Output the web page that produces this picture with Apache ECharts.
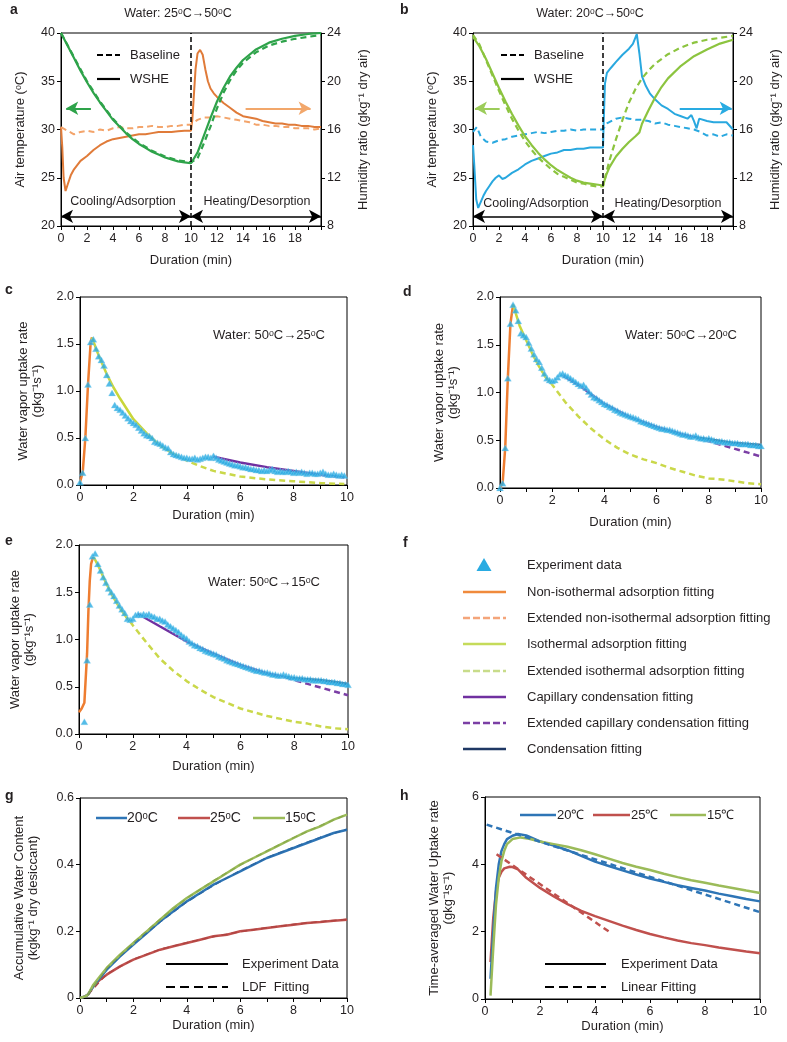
<!DOCTYPE html>
<html><head><meta charset="utf-8">
<script src="https://cdn.jsdelivr.net/npm/echarts@6/dist/echarts.min.js"></script>
<style>html,body{margin:0;padding:0;background:#fff}#c{width:787px;height:1042px}</style>
</head><body><div id="c"></div>
<script>
// ---------- panel a (Water 25->50) ----------
const aTempWSHE = [[0,40],[0.5,38.7],[1,37.4],[1.5,36.1],[2,34.9],[2.5,33.8],[3,32.8],[3.5,31.9],[4,31.0],[4.5,30.3],[5,29.6],[5.5,29.0],[6,28.5],[6.5,28.1],[7,27.7],[7.5,27.4],[8,27.1],[8.5,26.9],[9,26.7],[9.5,26.6],[10,26.5],[10.5,27.6],[11,29.4],[11.5,31.2],[12,32.9],[12.5,34.3],[13,35.5],[13.5,36.4],[14,37.2],[15,38.3],[16,39.0],[17,39.4],[18,39.7],[19,39.9],[20,40]];
const aTempBase = [[0,40],[1,37.5],[2,35.0],[3,32.9],[4,31.1],[5,29.7],[6,28.6],[7,27.8],[8,27.2],[9,26.8],[10,26.6],[10.5,27.0],[11,28.6],[11.5,30.3],[12,32.2],[12.5,33.8],[13,35.1],[13.5,36.1],[14,36.9],[15,38.0],[16,38.7],[17,39.1],[18,39.4],[19,39.6],[20,39.8]];
const aHumWSHE = [[0,16.2],[0.1,14.5],[0.2,12.0],[0.35,10.9],[0.5,11.4],[0.75,12.2],[1,12.7],[1.5,13.4],[2,13.8],[2.5,14.3],[3,14.7],[3.5,15.0],[4,15.2],[4.5,15.3],[5,15.4],[5.5,15.5],[6,15.6],[6.5,15.6],[7,15.7],[7.5,15.8],[8,15.8],[8.5,15.8],[9,15.85],[9.5,15.9],[10,15.9],[10.1,16.8],[10.2,18.5],[10.35,21.0],[10.5,22.3],[10.7,22.6],[10.9,22.2],[11.1,21.0],[11.3,20.0],[11.5,19.4],[11.75,19.0],[12,18.7],[12.5,18.2],[13,17.8],[13.5,17.4],[14,17.1],[14.5,17.0],[15,16.9],[15.5,16.7],[16,16.6],[16.5,16.5],[17,16.5],[17.5,16.4],[18,16.4],[18.5,16.3],[19,16.3],[19.5,16.2],[20,16.2]];
const aHumBase = [[0,16.2],[0.5,15.9],[1,15.6],[1.5,15.8],[2,15.9],[2.5,15.8],[3,16.0],[3.5,15.9],[4,16.1],[4.5,16.2],[5,16.1],[5.5,16.1],[6,16.2],[6.5,16.2],[7,16.3],[7.5,16.2],[8,16.2],[8.5,16.3],[9,16.3],[9.5,16.4],[10,16.4],[10.5,16.8],[11,17.0],[11.5,17.0],[12,17.1],[12.5,17.0],[13,16.9],[13.5,16.8],[14,16.7],[14.5,16.6],[15,16.4],[15.5,16.4],[16,16.3],[16.5,16.3],[17,16.2],[17.5,16.2],[18,16.1],[18.5,16.1],[19,16.1],[19.5,16.0],[20,16.1]];
// ---------- panel b (Water 20->50) ----------
const bTempWSHE = [[0,39.6],[0.5,38.6],[1,37.3],[1.5,35.8],[2,34.3],[2.5,32.9],[3,31.6],[3.5,30.4],[4,29.3],[4.5,28.4],[5,27.6],[5.5,26.9],[6,26.3],[6.5,25.8],[7,25.4],[7.5,25.0],[8,24.7],[8.5,24.5],[9,24.4],[9.5,24.3],[10,24.2],[10.25,25.3],[10.5,26.1],[11,27.2],[11.5,28.0],[12,28.7],[12.5,29.3],[12.8,29.7],[13,30.6],[13.5,32.0],[14,33.3],[14.5,34.4],[15,35.3],[16,36.6],[17,37.6],[18,38.3],[19,38.9],[20,39.3]];
const bTempBase = [[0,39.8],[0.5,38.8],[1,37.2],[1.5,35.6],[2,34.0],[2.5,32.5],[3,31.1],[3.5,29.9],[4,28.8],[4.5,27.9],[5,27.1],[5.5,26.5],[6,25.9],[6.5,25.4],[7,25.1],[7.5,24.8],[8,24.5],[8.5,24.4],[9,24.2],[9.5,24.1],[10,24.1],[10.25,25.5],[10.5,26.8],[11,29.0],[11.5,31.0],[12,32.8],[12.5,34.2],[13,35.3],[13.5,36.1],[14,36.8],[15,37.8],[16,38.5],[17,39.0],[18,39.3],[19,39.5],[20,39.7]];
const bHumWSHE = [[0,14.7],[0.1,13.0],[0.25,10.2],[0.4,9.5],[0.6,10.0],[0.8,10.5],[1,10.9],[1.25,11.3],[1.5,11.7],[1.75,12.0],[2,12.2],[2.25,11.9],[2.5,12.0],[3,12.4],[3.5,12.7],[4,13.1],[4.5,13.4],[5,13.6],[5.5,13.8],[6,14.0],[6.5,14.1],[7,14.3],[7.5,14.3],[8,14.4],[8.5,14.4],[9,14.5],[9.5,14.5],[10,14.5],[10.05,16.5],[10.15,19.8],[10.3,20.7],[10.6,21.1],[11,21.6],[11.5,22.2],[12,22.7],[12.3,23.1],[12.6,23.9],[12.8,22.3],[13,20.4],[13.3,19.6],[13.6,19.0],[14,18.5],[14.5,18.0],[15,17.7],[15.5,17.3],[16,17.1],[16.5,16.9],[16.8,17.2],[17,16.7],[17.2,16.1],[17.4,16.9],[18,16.7],[18.5,16.6],[19,16.6],[19.5,16.6],[20,16.0]];
const bHumBase = [[0,15.8],[0.3,16.2],[0.6,15.4],[1,15.0],[1.5,14.9],[2,15.1],[2.5,15.2],[3,15.4],[3.5,15.5],[4,15.6],[4.5,15.7],[5,15.8],[5.5,15.7],[6,15.8],[6.5,15.9],[7,15.9],[7.5,16.0],[8,15.9],[8.5,16.0],[9,16.0],[9.5,16.0],[10,16.0],[10.3,16.5],[11,16.9],[11.5,17.0],[12,16.9],[12.5,16.8],[13,16.8],[13.5,16.7],[14,16.5],[14.5,16.6],[15,16.4],[15.5,16.3],[16,16.2],[16.5,16.1],[17,16.0],[17.5,15.8],[18,15.5],[18.5,15.6],[19,15.4],[19.5,15.6],[20,15.5]];
// ---------- panels c, d, e (uptake rate) ----------
const expStep = 0.1;
const expCStart = 0, expDStart = 0, expEStart = 0.2;
const expC = [0.03,0.13,0.50,1.07,1.52,1.55,1.45,1.37,1.33,1.27, 1.17,1.08,0.98,0.85,0.82,0.80,0.77,0.74,0.71,0.68, 0.66,0.64,0.61,0.58,0.55,0.53,0.52,0.50,0.46,0.45, 0.44,0.42,0.40,0.39,0.35,0.33,0.32,0.31,0.30,0.29, 0.29,0.28,0.28,0.29,0.27,0.28,0.29,0.30,0.30,0.29, 0.31,0.29,0.27,0.26,0.25,0.24,0.23,0.22,0.21,0.21, 0.20,0.19,0.19,0.18,0.17,0.17,0.16,0.16,0.15,0.16, 0.15,0.16,0.17,0.15,0.14,0.15,0.14,0.14,0.15,0.14, 0.13,0.14,0.13,0.14,0.13,0.12,0.13,0.13,0.12,0.12, 0.13,0.14,0.12,0.11,0.11,0.12,0.11,0.10,0.11,0.10];
const expD = [0.00,0.05,0.42,1.15,1.72,1.92,1.86,1.75,1.62,1.60, 1.58,1.52,1.46,1.40,1.35,1.32,1.26,1.20,1.15,1.13, 1.12,1.13,1.16,1.19,1.20,1.18,1.17,1.15,1.13,1.11, 1.09,1.07,1.08,1.05,1.01,0.98,0.95,0.94,0.92,0.90, 0.88,0.87,0.85,0.84,0.82,0.81,0.79,0.78,0.77,0.76, 0.75,0.74,0.73,0.72,0.70,0.69,0.68,0.67,0.66,0.65, 0.64,0.63,0.62,0.62,0.61,0.61,0.60,0.59,0.58,0.57, 0.56,0.56,0.55,0.54,0.54,0.55,0.53,0.52,0.52,0.51, 0.52,0.51,0.50,0.49,0.49,0.49,0.48,0.48,0.48,0.47, 0.47,0.47,0.46,0.46,0.46,0.46,0.45,0.45,0.45,0.44, 0.44];
const expE = [0.13,0.78,1.37,1.88,1.91,1.80,1.73,1.66,1.60,1.54, 1.50,1.46,1.41,1.36,1.32,1.28,1.22,1.21,1.22,1.26, 1.27,1.26,1.27,1.26,1.27,1.25,1.24,1.22,1.22,1.20, 1.19,1.16,1.14,1.12,1.10,1.08,1.05,1.03,1.01,0.98, 0.96,0.94,0.93,0.91,0.90,0.88,0.87,0.86,0.85,0.84, 0.82,0.81,0.80,0.78,0.77,0.76,0.75,0.74,0.73,0.72, 0.71,0.70,0.69,0.68,0.67,0.67,0.66,0.65,0.65,0.64, 0.63,0.63,0.62,0.62,0.63,0.62,0.61,0.60,0.60,0.59, 0.59,0.59,0.58,0.58,0.58,0.57,0.57,0.57,0.57,0.56, 0.56,0.55,0.55,0.55,0.54,0.54,0.53,0.53,0.52];

const cNonIso = [[0,0.03],[0.1,0.13],[0.2,0.5],[0.3,1.07],[0.4,1.52],[0.45,1.57]];
const cIso = [[0.45,1.57],[0.6,1.45],[0.8,1.31],[1.0,1.18],[1.25,1.04],[1.5,0.92],[2,0.70],[2.5,0.55],[3,0.42],[3.5,0.33]];
const cIsoExt = [[3.5,0.33],[4,0.26],[4.5,0.2],[5,0.15],[5.5,0.12],[6,0.09],[7,0.06],[8,0.04],[9,0.02],[9.9,0.01]];
const cCap = [[5,0.30],[6,0.24],[7,0.19],[8,0.15],[9,0.11],[9.9,0.08]];

const dNonIso = [[0,0],[0.1,0.05],[0.2,0.42],[0.3,1.15],[0.4,1.72],[0.5,1.92]];
const dIso = [[0.5,1.92],[0.75,1.70],[1,1.55],[1.25,1.40],[1.5,1.27],[1.75,1.16],[1.95,1.10]];
const dIsoExt = [[1.95,1.10],[2.5,0.90],[3,0.75],[3.5,0.62],[4,0.51],[4.5,0.42],[5,0.35],[5.5,0.30],[6,0.26],[6.5,0.21],[7,0.17],[7.5,0.13],[8,0.10],[8.5,0.09],[9,0.07],[9.5,0.05],[10,0.04]];
const dCap = [[2.4,1.18],[3,1.08],[4,0.88],[5,0.74],[6,0.64],[7,0.56],[7.5,0.53]];
const dCapExt = [[7.5,0.53],[8,0.49],[8.5,0.45],[9,0.41],[9.5,0.37],[10,0.33]];
const dCond = [[7.5,0.53],[8,0.51],[8.5,0.49],[9,0.47],[9.5,0.46],[10,0.45]];

const eNonIso = [[0,0.23],[0.1,0.27],[0.2,0.33],[0.3,0.85],[0.35,1.3],[0.4,1.62],[0.45,1.8],[0.5,1.85],[0.55,1.87]];
const eIso = [[0.55,1.87],[0.75,1.76],[1,1.60],[1.25,1.46],[1.5,1.34],[1.75,1.24],[1.9,1.19]];
const eIsoExt = [[1.9,1.19],[2,1.15],[2.5,0.97],[3,0.80],[3.5,0.67],[4,0.56],[4.5,0.47],[5,0.39],[5.5,0.33],[6,0.27],[6.5,0.23],[7,0.19],[7.5,0.16],[8,0.13],[8.5,0.11],[9,0.08],[9.5,0.06],[10,0.05]];
const eCap = [[2.2,1.27],[3,1.14],[4,0.98],[5,0.85],[6,0.73],[7,0.64],[7.7,0.60]];
const eCapExt = [[7.7,0.60],[8,0.57],[8.5,0.53],[9,0.49],[9.5,0.45],[10,0.41]];
const eCond = [[7.7,0.60],[8,0.59],[8.5,0.58],[9,0.57],[9.5,0.55],[10,0.53]];
// ---------- panel g ----------
const g20 = [[0,0],[0.2,0.005],[0.3,0.01],[0.5,0.035],[0.75,0.06],[1,0.085],[1.5,0.125],[2,0.16],[2.5,0.195],[3,0.23],[3.5,0.26],[4,0.29],[4.5,0.315],[5,0.34],[5.5,0.36],[6,0.38],[6.5,0.40],[7,0.42],[7.5,0.435],[8,0.45],[8.5,0.465],[9,0.48],[9.5,0.495],[10,0.505]];
const g15 = [[0,0],[0.2,0.005],[0.3,0.01],[0.5,0.04],[0.75,0.065],[1,0.09],[1.5,0.13],[2,0.165],[2.5,0.2],[3,0.235],[3.5,0.27],[4,0.30],[4.5,0.325],[5,0.35],[5.5,0.375],[6,0.40],[6.5,0.42],[7,0.44],[7.5,0.46],[8,0.48],[8.5,0.50],[9,0.515],[9.5,0.535],[10,0.55]];
const g25 = [[0,0],[0.2,0.005],[0.3,0.01],[0.5,0.035],[0.75,0.055],[1,0.07],[1.5,0.095],[2,0.115],[2.5,0.13],[3,0.145],[3.5,0.155],[4,0.165],[4.5,0.175],[5,0.185],[5.5,0.19],[6,0.20],[6.5,0.205],[7,0.21],[7.5,0.215],[8,0.22],[8.5,0.225],[9,0.228],[9.5,0.232],[10,0.235]];
const g20Fit = [[0.3,0.01],[1,0.087],[2,0.162],[3,0.228],[4,0.288],[5,0.338],[6,0.382],[7,0.421],[8,0.452],[9,0.482],[10,0.506]];
const g15Fit = [[0.3,0.01],[1,0.09],[2,0.166],[3,0.236],[4,0.299],[5,0.352],[6,0.399],[7,0.441],[8,0.481],[9,0.517],[10,0.551]];
const g25Fit = [[0.3,0.01],[1,0.072],[2,0.116],[3,0.146],[4,0.166],[5,0.184],[6,0.199],[7,0.211],[8,0.221],[9,0.229],[10,0.236]];
// ---------- panel h ----------
const h20 = [[0.2,0.6],[0.3,2.0],[0.4,3.3],[0.5,4.0],[0.6,4.4],[0.7,4.6],[0.8,4.75],[1,4.85],[1.2,4.9],[1.5,4.86],[2,4.68],[2.5,4.56],[3,4.42],[3.5,4.25],[4,4.08],[4.5,3.95],[5,3.82],[5.5,3.7],[6,3.58],[6.5,3.48],[7,3.38],[7.5,3.3],[8,3.22],[8.5,3.13],[9,3.05],[9.5,2.97],[10,2.9]];
const h15 = [[0.2,0.1],[0.3,1.5],[0.4,2.8],[0.5,3.6],[0.6,4.1],[0.7,4.4],[0.8,4.6],[1,4.75],[1.3,4.8],[1.6,4.76],[2,4.68],[2.5,4.6],[3,4.52],[3.5,4.42],[4,4.3],[4.5,4.17],[5,4.04],[5.5,3.93],[6,3.83],[6.5,3.72],[7,3.62],[7.5,3.53],[8,3.45],[8.5,3.37],[9,3.3],[9.5,3.22],[10,3.15]];
const h25 = [[0.2,1.1],[0.3,2.4],[0.4,3.2],[0.5,3.6],[0.6,3.78],[0.7,3.88],[0.9,3.93],[1,3.92],[1.2,3.85],[1.5,3.6],[2,3.3],[2.5,3.05],[3,2.82],[3.5,2.62],[4,2.46],[4.5,2.32],[5,2.18],[5.5,2.05],[6,1.93],[6.5,1.83],[7,1.74],[7.5,1.66],[8,1.6],[8.5,1.53],[9,1.47],[9.5,1.41],[10,1.36]];
const h20Fit = [[0.06,5.18],[10,2.58]];
const h25Fit = [[0.42,4.3],[4.6,1.95]];

// ---------- labels ----------
const legendF = ['Experiment data','Non-isothermal adsorption fitting','Extended non-isothermal adsorption fitting','Isothermal adsorption fitting','Extended isothermal adsorption fitting','Capillary condensation fitting','Extended capillary condensation fitting','Condensation fitting'];

const FONT = 'Liberation Sans, Arial, sans-serif';
const TXT = '#231f20';
const FS = 12.5;
const NFS = 13;

function toPairs(arr, start){ return arr.map((v,i)=>[+(start + i*expStep).toFixed(2), v]); }

function xAx(grid, max, gap, hideLast){
  return {type:'value', gridIndex:grid, min:0, max:max, interval:2,
    name:'Duration (min)', nameLocation:'middle', nameGap:gap,
    nameTextStyle:{fontSize:NFS,color:TXT,fontFamily:FONT},
    axisLine:{show:true,onZero:false,lineStyle:{color:'#000',width:1}},
    axisTick:{show:true,length:4,lineStyle:{color:'#000'}},
    minorTick:{show:true,splitNumber:2,length:4,lineStyle:{color:'#000'}},
    splitLine:{show:false}, minorSplitLine:{show:false},
    axisLabel:{fontSize:FS,color:TXT,fontFamily:FONT,margin:6,showMaxLabel:!hideLast,showMinLabel:true}};
}
function yAx(grid, min, max, interval, name, gap, pos, fmt){
  return {type:'value', gridIndex:grid, min:min, max:max, interval:interval, position:pos||'left',
    name:name, nameLocation:'middle', nameGap:gap,
    nameTextStyle:{fontSize:NFS,color:TXT,fontFamily:FONT,lineHeight:14},
    axisLine:{show:true,onZero:false,lineStyle:{color:'#000',width:1}},
    axisTick:{show:true,length:4,lineStyle:{color:'#000'}},
    splitLine:{show:false},
    axisLabel:{fontSize:FS,color:TXT,fontFamily:FONT,margin:6,showMaxLabel:true,showMinLabel:true,formatter:fmt||null}};
}
function line(name, xi, yi, data, color, dashed, width, z){
  return {type:'line', name:name, xAxisIndex:xi, yAxisIndex:yi, data:data, showSymbol:false, symbol:'none',
    lineStyle:{color:color,width:width||2,type:dashed?[6,4]:'solid'}, itemStyle:{color:color}, z:z||2, silent:true};
}

const cOrange='#ee7d31', cIsoCol='#c9d63a', cIsoExtCol='#cad84a', cPurple='#7030a0', cPurpleExt='#7b3fa5', cNavy='#1f3864', cExp='#29abe2';
const legendColors = [cExp,'#f08a3c','#f4a57a','#c5db5a','#c8dc8a','#7030a0','#7b3fa5','#1f3864'];
const legendDashed = [false,false,true,false,true,false,true,false];
const f1 = v=>v.toFixed(1);

const series = [];
// a
const sa = line('aT',0,0,aTempWSHE,'#2ea34a',false,2.2,3);
sa.markLine = {silent:true, symbol:['none','arrow'], symbolSize:[10,12], label:{show:false}, animation:false,
  lineStyle:{color:'#2ea34a',width:2,type:'solid'},
  data:[
    [{coord:[2.3,32.2]},{coord:[0.4,32.2]}],
    [{coord:[0,21],symbol:'arrow',lineStyle:{color:'#000',width:1.5,type:'solid'}},{coord:[10,21],symbol:'arrow'}],
    [{coord:[10,21],symbol:'arrow',lineStyle:{color:'#000',width:1.5,type:'solid'}},{coord:[20,21],symbol:'arrow'}],
    [{coord:[10,20],symbol:'none',lineStyle:{color:'#000',width:1.5,type:[5,3]}},{coord:[10,40],symbol:'none'}]
  ]};
series.push(sa);
series.push(line('aTb',0,0,aTempBase,'#2ea34a',true,2.2,3));
const sao = line('aH',0,1,aHumWSHE,'#e07b39',false,2,2);
sao.markLine = {silent:true, symbol:['none','arrow'], symbolSize:[10,12], label:{show:false}, animation:false,
  lineStyle:{color:'#f2a76b',width:2,type:'solid'}, data:[[{coord:[14.2,17.76]},{coord:[19.2,17.76]}]]};
series.push(sao);
series.push(line('aHb',0,1,aHumBase,'#f3a46b',true,2,2));
// b
const sb = line('bT',1,2,bTempWSHE,'#8cc43f',false,2.2,3);
sb.markLine = {silent:true, symbol:['none','arrow'], symbolSize:[10,12], label:{show:false}, animation:false,
  lineStyle:{color:'#9ccc5a',width:2,type:'solid'},
  data:[
    [{coord:[2.05,32.2]},{coord:[0.15,32.2]}],
    [{coord:[0,21],symbol:'arrow',lineStyle:{color:'#000',width:1.5,type:'solid'}},{coord:[10,21],symbol:'arrow'}],
    [{coord:[10,21],symbol:'arrow',lineStyle:{color:'#000',width:1.5,type:'solid'}},{coord:[20,21],symbol:'arrow'}],
    [{coord:[10,20],symbol:'none',lineStyle:{color:'#000',width:1.5,type:[5,3]}},{coord:[10,40],symbol:'none'}]
  ]};
series.push(sb);
series.push(line('bTb',1,2,bTempBase,'#8cc43f',true,2.2,3));
const sbb = line('bH',1,3,bHumWSHE,'#29a8df',false,2,2);
sbb.markLine = {silent:true, symbol:['none','arrow'], symbolSize:[10,12], label:{show:false}, animation:false,
  lineStyle:{color:'#29abe2',width:2,type:'solid'}, data:[[{coord:[15.9,17.76]},{coord:[19.9,17.76]}]]};
series.push(sbb);
series.push(line('bHb',1,3,bHumBase,'#29a8df',true,2,2));
// c, d, e
function ratePanel(xi, yi, exp, start, nonIso, iso, isoExt, cap, capExt, cond){
  series.push(line(legendF[1],xi,yi,nonIso,cOrange,false,2.5,2));
  series.push(line(legendF[3],xi,yi,iso,cIsoCol,false,2.5,2));
  series.push(line(legendF[4],xi,yi,isoExt,cIsoExtCol,true,2.5,2));
  series.push(line(legendF[5],xi,yi,cap,cPurple,false,2.5,2));
  if(capExt) series.push(line(legendF[6],xi,yi,capExt,cPurpleExt,true,2.5,2));
  if(cond) series.push(line(legendF[7],xi,yi,cond,cNavy,false,2.5,2));
  series.push({type:'scatter', name:legendF[0], xAxisIndex:xi, yAxisIndex:yi, data:toPairs(exp,start),
    symbol:'triangle', symbolSize:[7,6], itemStyle:{color:cExp, borderColor:'#8fd3f0', borderWidth:0.4}, z:4, silent:true});
}
ratePanel(2,4,expC,expCStart,cNonIso,cIso,cIsoExt,cCap,null,null);
ratePanel(3,5,expD,expDStart,dNonIso,dIso,dIsoExt,dCap,dCapExt,dCond);
ratePanel(4,6,expE,expEStart,eNonIso,eIso,eIsoExt,eCap,eCapExt,eCond);
// g
const BLUE='#2e75b6', RED='#c0504d', GREEN='#9bbb59';
series.push(line('g25',5,7,g25,RED,false,2.5,2));
series.push(line('g20',5,7,g20,BLUE,false,2.5,2));
series.push(line('g15',5,7,g15,GREEN,false,2.5,2));
series.push(line('g25f',5,7,g25Fit,'#b04442',true,1.5,3));
series.push(line('g20f',5,7,g20Fit,'#2a68a5',true,1.5,3));
series.push(line('g15f',5,7,g15Fit,'#8aab4c',true,1.5,3));
// h
series.push(line('h25',6,8,h25,RED,false,2.5,2));
series.push(line('h20',6,8,h20,BLUE,false,2.5,2));
series.push(line('h15',6,8,h15,GREEN,false,2.5,2));
series.push(line('h20f',6,8,h20Fit,BLUE,true,2.5,3));
series.push(line('h25f',6,8,h25Fit,RED,true,2.5,3));

const grids = [
  {left:61, top:33, width:260, height:193},
  {left:473, top:33, width:260, height:193},
  {left:80, top:297, width:267, height:188},
  {left:500, top:297, width:261, height:191},
  {left:79, top:545, width:269, height:189},
  {left:80, top:798, width:267, height:200},
  {left:485, top:797, width:275, height:202}
].map(g=>Object.assign(g,{show:true,borderColor:'#000',borderWidth:1,backgroundColor:'transparent',containLabel:false}));

const xAxes = [xAx(0,20,28,true), xAx(1,20,28,true), xAx(2,10,24,false), xAx(3,10,28,false), xAx(4,10,26,false), xAx(5,10,21,false), xAx(6,10,21,false)];
const yAxes = [
  yAx(0,20,40,5,'Air temperature (ᵒC)',34,'left'),
  yAx(0,8,24,4,'Humidity ratio (gkg⁻¹ dry air)',35,'right'),
  yAx(1,20,40,5,'Air temperature (ᵒC)',34,'left'),
  yAx(1,8,24,4,'Humidity ratio (gkg⁻¹ dry air)',35,'right'),
  yAx(2,0,2,0.5,'Water vapor uptake rate\n(gkg⁻¹s⁻¹)',36,'left',f1),
  yAx(3,0,2,0.5,'Water vapor uptake rate\n(gkg⁻¹s⁻¹)',40,'left',f1),
  yAx(4,0,2,0.5,'Water vapor uptake rate\n(gkg⁻¹s⁻¹)',43,'left',f1),
  yAx(5,0,0.6,0.2,'Accumulative Water Content\n(kgkg⁻¹ dry desiccant)',40,'left'),
  yAx(6,0,6,2,'Time-averaged Water Uptake rate\n(gkg⁻¹s⁻¹)',30,'left')
];

function T(text,x,y,opt){ return Object.assign({type:'text', x:x, y:y, silent:true, style:Object.assign({text:text, fill:TXT, font:FS+'px '+FONT, align:'left', verticalAlign:'middle'}, opt||{})}); }
function L(x1,y1,x2,y2,color,dash,w){ return {type:'line', silent:true, shape:{x1,y1,x2,y2}, style:{stroke:color, lineWidth:w||2, lineDash:dash||null}}; }
const B = {font:'bold 14px '+FONT};
const F13 = {font:'13px '+FONT};
const graphics = [
  T('a',10,10,B), T('b',400,10,B), T('c',5,290,B), T('d',403,292,B), T('e',5,541,B), T('f',403,543,B), T('g',5,796,B), T('h',400,796,B),
  T('Water: 25ᵒC→50ᵒC',178,14,{align:'center'}),
  T('Water: 20ᵒC→50ᵒC',590,14,{align:'center'}),
  L(97,55,120,55,'#000',[6,3],2.2), T('Baseline',130,55,F13),
  L(97,79,120,79,'#000',null,2.2), T('WSHE',130,79,F13),
  L(501,55,524,55,'#000',[6,3],2.2), T('Baseline',534,55,F13),
  L(501,79,524,79,'#000',null,2.2), T('WSHE',534,79,F13),
  T('Cooling/Adsorption',123,202,{align:'center'}), T('Heating/Desorption',257,202,{align:'center'}),
  T('Cooling/Adsorption',536,204,{align:'center'}), T('Heating/Desorption',668,204,{align:'center'}),
  T('Water: 50ᵒC→25ᵒC',269,335,{align:'center',font:'13px '+FONT}),
  T('Water: 50ᵒC→20ᵒC',681,335,{align:'center',font:'13px '+FONT}),
  T('Water: 50ᵒC→15ᵒC',264,582,{align:'center',font:'13px '+FONT}),
  // g legend
  L(96,818,127,818,BLUE,null,2.5), T('20ᵒC',127,818,{font:'14px '+FONT}),
  L(178,818,210,818,RED,null,2.5), T('25ᵒC',210,818,{font:'14px '+FONT}),
  L(253,818,285,818,GREEN,null,2.5), T('15ᵒC',285,818,{font:'14px '+FONT}),
  L(166,964,228,964,'#000',null,2.2), T('Experiment Data',242,964,F13),
  L(166,987,228,987,'#000',[9,5],2.2), T('LDF  Fitting',242,987,F13),
  // h legend
  L(520,815,556,815,BLUE,null,2.5), T('20℃',557,815,F13),
  L(593,815,630,815,RED,null,2.5), T('25℃',631,815,F13),
  L(670,815,706,815,GREEN,null,2.5), T('15℃',707,815,F13),
  L(545,964,606,964,'#000',null,2.2), T('Experiment Data',621,964,F13),
  L(545,987,606,987,'#000',[9,5],2.2), T('Linear Fitting',621,987,F13)
];
// f legend (key panel)
const fY = [565,592,618,644,671,697,723,749];
legendF.forEach((name,i)=>{
  if(i===0){
    graphics.push({type:'polygon', silent:true, shape:{points:[[484,558],[476.5,571],[491.5,571]]}, style:{fill:cExp}});
  } else {
    graphics.push(L(463,fY[i],506,fY[i],legendColors[i],legendDashed[i]?[7,3]:null,2.5));
  }
  graphics.push(T(name,527,fY[i],F13));
});

const chart = echarts.init(document.getElementById('c'), null, {renderer:'canvas'});
chart.setOption({
  animation:false,
  backgroundColor:'#fff',
  textStyle:{fontFamily:FONT},
  grid:grids, xAxis:xAxes, yAxis:yAxes, series:series,
  graphic:graphics
});
</script></body></html>
